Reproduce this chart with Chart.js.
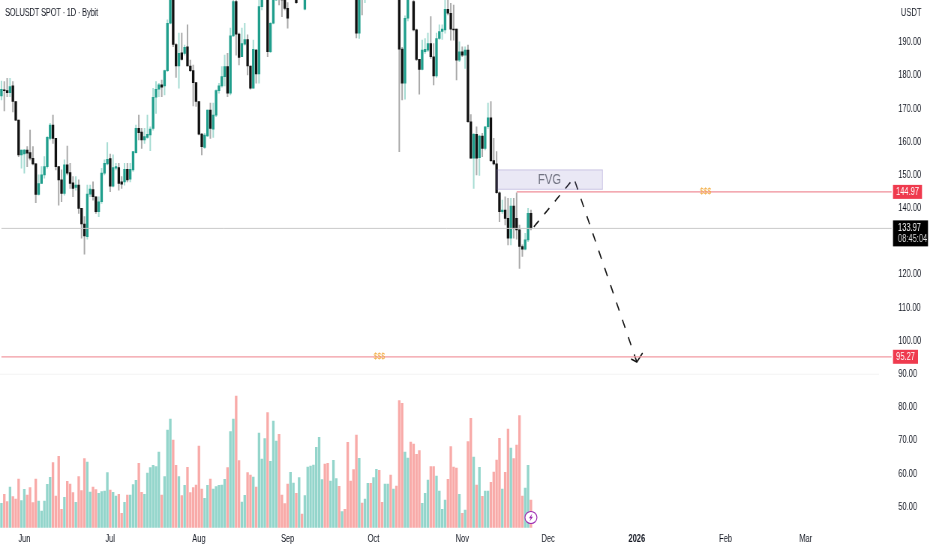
<!DOCTYPE html>
<html>
<head>
<meta charset="utf-8">
<title>SOLUSDT SPOT 1D</title>
<script src="https://cdn.jsdelivr.net/npm/chart.js@4"></script>
<style>
  html, body { margin: 0; padding: 0; background: #fff; overflow: hidden; }
  #wrap { width: 932px; height: 550px; overflow: hidden; }
  /* the original screenshot is squeezed sideways, so draw wide and scale it back */
  canvas { display: block; transform: scaleX(0.75); transform-origin: 0 0; }
</style>
</head>
<body>
<div id="wrap"><canvas id="myChart" width="1243" height="550"></canvas></div>
<script>
// candles, one per day from 2025-05-24 (values above about 203 are off the top of the picture)
var opens = [173.9,175.7,175.5,174.9,176.9,172.2,166.6,156.1,156.4,157.6,156.8,155.1,153.4,144.2,147.5,150.1,152.6,161.1,165.1,161.1,152.6,148.6,144.5,153.1,150.8,147.7,146.3,147.0,140.0,135.3,131.5,144.3,145.7,143.5,139.0,142.0,150.6,153.4,155.0,146.7,152.1,152.3,148.0,148.0,151.8,148.8,151.6,156.8,164.1,163.0,160.6,161.4,162.1,164.1,173.5,175.9,177.2,176.9,181.5,195.8,205.8,189.4,182.9,186.9,186.7,188.7,182.9,181.5,177.9,172.2,162.4,158.4,161.8,169.6,163.9,168.1,175.5,176.9,179.7,182.7,174.7,192.0,202.3,192.5,185.7,189.5,190.9,182.9,176.2,187.7,180.5,200.8,203.8,205.8,187.2,195.8,202.8,204.8,203.3,202.8,200.3,204.5,210,214,203.5,209,200,
  208,213,217,222,228,235,238,234,230,236,241,245,240,243,240,232,226,218,192.8,205,203.5,208,212,208,214,222,218,214,218,223,220,226,222,188,177.7,197.3,206,202.3,193.8,184.9,181.9,187.2,187.7,189.7,185.7,179.9,191.2,193.3,193.8,200.0,198.8,194.0,194.0,184.7,187.2,186.2,187.7,166.1,155.1,162.3,155.3,161.8,158.1,164.6,167.3,154.4,153.4,144.7,139.0,139.5,137.0,131.0,140.7,137.0,133.5,128.5,127.7,130.5,138.5];
var closes = [175.9,175.5,174.9,176.7,172.2,166.6,156.1,157.6,157.6,156.6,155.1,153.4,144.2,147.5,150.1,152.6,161.4,165.1,161.1,152.6,148.6,144.5,153.1,150.6,147.5,146.0,147.0,140.0,135.3,131.7,144.3,145.8,143.5,139.0,142.0,150.6,153.6,154.8,146.7,152.3,152.6,147.5,147.3,151.8,148.6,151.8,157.1,164.1,162.8,160.6,161.6,162.3,163.9,173.5,175.9,177.2,176.5,181.5,195.8,205.8,189.4,182.9,186.7,184.9,188.5,182.9,181.5,177.9,172.2,162.4,158.6,162.1,169.6,164.1,168.1,175.5,176.9,179.7,182.7,174.7,192.0,202.3,192.5,185.5,189.7,190.9,182.9,176.2,187.9,180.5,200.8,203.8,206.8,187.2,195.8,202.8,205.8,203.3,202.8,200.3,197.3,210,214,202,209,204,208,
  213,217,222,228,235,238,234,230,236,241,245,240,243,240,232,226,218,192.8,205,203.5,208,212,208,214,222,218,214,218,223,220,226,222,188,177.7,197.3,204,204,193.8,184.9,181.9,187.7,187.9,189.7,185.7,179.9,191.2,193.3,194.0,200.0,198.8,194.0,193.8,184.7,187.2,186.2,187.7,166.1,155.1,162.3,155.1,161.8,158.1,164.6,167.3,154.4,153.4,144.7,139.0,139.5,137.0,131.0,140.7,134.0,133.5,128.5,127.7,130.5,138.5,133.97];
var highs = [178.4,178.2,179.2,179.2,178.2,172.2,166.6,157.6,157.8,158.6,163.6,158.6,153.6,150.1,152.6,155.6,161.6,165.6,168.1,161.1,152.6,151.6,154.6,158.8,153.6,149.6,149.6,148.6,140.0,137.5,147.0,147.0,148.0,143.5,143.5,152.1,154.6,159.8,156.4,156.1,153.6,153.6,149.6,153.6,153.6,153.6,157.1,165.1,168.1,164.1,164.1,168.1,164.6,176.2,178.2,177.7,178.7,181.7,196.8,208,208,189.7,192.8,192.8,189.2,195.3,184.7,183.2,177.9,172.2,162.6,162.6,169.6,171.7,171.7,175.7,177.7,182.7,186.2,186.7,194.3,204,204,192.8,194.3,195.8,192.3,182.9,190.7,187.9,202.8,205,209,207,196,204,207,206,205,204,202,211,216,215,211,210,210,
  214,218,223,230,236,240,239,235,237,243,247,246,244,243,241,233,227,220,206,207,210,213,213,216,224,223,219,219,225,224,228,227,224,188.5,198,206,208,204,194,184.9,190.7,191.2,192.8,197.8,189.7,192.8,195.3,195.3,202.8,202.8,201.8,201.3,194,190.2,188.7,188.7,189.2,168.3,162.6,164.6,162.1,162.6,164.6,171.7,172.2,161.1,157.1,145.0,142.5,143.5,143.0,143.0,143.0,144.7,135.0,129.0,132.5,140.0,139.5];
var lows = [172.7,169.4,173.7,173.7,169.1,166.4,155.6,152.1,150.6,152.6,154.6,153.1,141.7,144.0,147.5,149.1,152.1,160.6,159.6,151.6,141.0,142.0,144.0,150.1,146.0,143.5,145.5,138.5,131.0,126.2,130.7,143.5,142.5,138.5,137.5,141.5,150.1,153.1,145.0,146.5,151.6,145.5,146.0,147.0,148.0,148.0,151.1,156.6,160.6,158.1,159.6,161.1,157.4,163.6,168.6,173.7,173.7,174.2,181.2,195.6,188.7,179.5,176.2,184.7,186.2,182.9,181.2,170.9,170.7,162.1,156.1,158.1,161.6,161.1,161.4,167.6,174.7,176.5,176.9,173.7,174.2,191.8,186.2,183.2,185.7,189.2,180.2,175.9,176.2,177.7,177.7,199.8,203.3,185.7,186.9,195.6,202.6,201.3,197.8,199.8,194.3,203,209,201.8,203,203.5,199.8,
  207,212,216,221,227,233,232,229,229,235,240,239,239,239,231,225,217,191.4,191.2,198.3,202,207,207,207,213,217,213,213,217,219,219,221,157.1,172.7,172.9,196.5,203,193.5,184.5,174.4,181.7,186.7,187.2,185.2,177.2,179.5,190.9,190.9,192.8,198.3,190.7,190.7,178.7,184.2,185.7,182.2,165.9,155.1,146.0,150.1,149.9,155.6,157.6,164.1,154.1,153.1,144.5,136.0,138.5,135.0,129.0,129.0,131.0,130.7,121.9,125.5,127.5,130.0,133.5];
// volume is only shown as bar heights, the original has no scale for it
var volumes = [73,100,78,122,93,86,146,81,115,98,120,75,146,80,50,80,130,151,195,95,214,55,91,139,131,105,76,153,111,207,197,107,122,114,103,108,110,165,113,106,95,100,43,76,98,98,129,142,193,106,100,164,180,187,183,227,98,153,293,326,263,187,153,96,127,181,105,120,128,245,116,88,127,146,116,123,127,128,145,180,288,326,395,201,77,97,165,158,152,122,284,206,267,345,199,320,260,280,
  98,72,131,166,134,103,150,41,96,182,185,188,241,271,144,191,193,140,202,147,124,48,55,256,140,174,278,208,74,86,133,133,150,175,172,76,131,131,158,116,125,381,373,227,209,257,251,220,231,73,103,143,183,183,155,110,55,83,145,243,182,179,100,43,53,258,328,212,128,181,94,110,110,136,167,203,268,116,166,296,239,207,248,336,95,119,187,83];

var priceTicks = [50,60,70,80,90,100,110,120,140,150,160,170,180,190];
var monthDates = ['2025-06-01','2025-07-01','2025-08-01','2025-09-01','2025-10-01','2025-11-01','2025-12-01','2026-01-01','2026-02-01','2026-03-01'];
var monthLabels = ['Jun','Jul','Aug','Sep','Oct','Nov','Dec','2026','Feb','Mar'];

var lastPrice = 133.97;
var levelHigh = 144.97;
var levelLow = 95.27;
var fvgFrom = '2025-11-13', fvgTo = '2025-12-20', fvgTop = 151.6, fvgBottom = 145.75;
var pathDates = ['2025-11-26','2025-12-10','2026-01-01'];
var pathPrices = [134.4,149.1,93.7];
var wingDates = ['2025-12-30','2026-01-01','2026-01-03'];
var wingPrices = [94.6,93.7,96.4];

var days = [];
for (var d = 0; d < 312; d++) {
  days.push(new Date(Date.UTC(2025, 4, 24 + d)).toISOString().slice(0, 10));
}
var firstDay = days[0], lastDay = days[days.length - 1];

var SX = 4 / 3; // canvas px per screen px sideways
var fontName = '"Liberation Sans", Arial, sans-serif';
var UP = '#1f9e8c', DOWN = '#101010';

function isUp(i) { return closes[i] >= opens[i]; }
function pts(xs, ys) { return xs.map(function(x, i) { return {x: x, y: ys[i]}; }); }

var overlays = {
  id: 'overlays',
  afterDatasetsDraw: function(chart) {
    var c = chart.ctx, xs = chart.scales.x, ys = chart.scales.y, right = chart.chartArea.right;

    // faint separator above the volume pane
    c.save();
    c.strokeStyle = '#f3f3f3';
    c.beginPath(); c.moveTo(0, ys.getPixelForValue(90)); c.lineTo(right - 14 * SX, ys.getPixelForValue(90)); c.stroke();

    // FVG box
    var x0 = xs.getPixelForValue(days.indexOf(fvgFrom)), x1 = xs.getPixelForValue(days.indexOf(fvgTo));
    var y0 = ys.getPixelForValue(fvgTop), y1 = ys.getPixelForValue(fvgBottom);
    c.fillStyle = 'rgba(126,112,190,0.16)';
    c.strokeStyle = 'rgba(126,112,190,0.35)';
    c.fillRect(x0, y0, x1 - x0, y1 - y0);
    c.strokeRect(x0, y0, x1 - x0, y1 - y0);
    c.fillStyle = '#6f7180';
    c.font = '15px ' + fontName;
    c.textAlign = 'center'; c.textBaseline = 'middle';
    c.fillText('FVG', (x0 + x1) / 2, (y0 + y1) / 2);

    // $$$ labels on the two levels
    c.fillStyle = '#f2a93b';
    c.font = '9px ' + fontName;
    c.fillText('$$$', xs.getPixelForValue(days.indexOf('2026-01-25')), ys.getPixelForValue(levelHigh));
    c.fillText('$$$', xs.getPixelForValue(days.indexOf('2025-10-03')), ys.getPixelForValue(levelLow));

    // price tags
    c.font = '10px ' + fontName;
    tag(c, String(levelHigh), right, ys.getPixelForValue(levelHigh), 29 * SX, 14, '#ef3a4e');
    tag(c, String(levelLow), right, ys.getPixelForValue(levelLow), 25 * SX, 14, '#ef3a4e');
    var py = ys.getPixelForValue(lastPrice);
    c.fillStyle = '#000';
    c.fillRect(right, py - 8, 35 * SX, 26);
    c.fillStyle = '#fff';
    c.textAlign = 'left';
    c.fillText(String(lastPrice), right + 5 * SX, py - 0.5);
    c.fillStyle = '#d8d8d8';
    c.fillText('08:45:04', right + 5 * SX, py + 11);

    // header texts
    c.fillStyle = '#131722';
    c.font = '10px ' + fontName;
    c.letterSpacing = '-0.25px';
    c.fillText('SOLUSDT SPOT · 1D · Bybit', 5 * SX, 13);
    c.letterSpacing = '0px';
    c.fillText('USDT', 901 * SX, 13);

    // lightning badge at the last bar
    var bx = xs.getPixelForValue(days.indexOf('2025-11-25')), by = 517.5;
    c.beginPath(); c.ellipse(bx, by, 6 * SX, 6, 0, 0, Math.PI * 2);
    c.fillStyle = '#fff'; c.fill();
    c.lineWidth = 1.2; c.strokeStyle = '#9c27b0'; c.stroke();
    c.fillStyle = '#9c27b0';
    c.beginPath();
    c.moveTo(bx + 1.3 * SX, by - 4); c.lineTo(bx - 2 * SX, by + 0.8); c.lineTo(bx - 0.2 * SX, by + 0.8);
    c.lineTo(bx - 1.3 * SX, by + 4); c.lineTo(bx + 2 * SX, by - 0.8); c.lineTo(bx + 0.2 * SX, by - 0.8);
    c.closePath(); c.fill();
    c.restore();
  }
};

function tag(c, text, x, y, w, h, color) {
  c.fillStyle = color;
  c.fillRect(x, y - h / 2, w, h);
  c.fillStyle = '#fff';
  c.textAlign = 'center';
  c.fillText(text, x + w / 2, y + 0.5);
}

function lineSet(data, color, width, dash) {
  return {
    type: 'line', data: data, order: 1,
    borderColor: color, borderWidth: width, borderDash: dash || [],
    pointRadius: 0, tension: 0, fill: false
  };
}

function noPadding(s) {
  s.paddingTop = s.paddingBottom = s.paddingLeft = s.paddingRight = 0;
}

var chart = new Chart(document.getElementById('myChart'), {
  type: 'bar',
  data: {
    labels: days,
    datasets: [
      {
        label: 'volume', yAxisID: 'vol', order: 6, grouped: false, barThickness: 2 * SX,
        data: volumes,
        backgroundColor: volumes.map(function(v, i) { return isUp(i) ? '#93d5cb' : '#f8aaa8'; })
      },
      {
        label: 'wicks', order: 5, grouped: false, barThickness: 1 * SX,
        data: lows.map(function(l, i) { return [l, highs[i]]; }),
        backgroundColor: lows.map(function(l, i) { return isUp(i) ? '#a6dcd3' : '#a9a9a9'; })
      },
      {
        label: 'bodies', order: 4, grouped: false, barThickness: 2 * SX,
        data: opens.map(function(o, i) { return [o, closes[i]]; }),
        backgroundColor: opens.map(function(o, i) { return isUp(i) ? UP : DOWN; })
      },
      lineSet(pts([firstDay, lastDay], [lastPrice, lastPrice]), '#c9c9c9', 1),
      lineSet(pts(['2025-11-20', lastDay], [levelHigh, levelHigh]), '#ef8e98', 1.2),
      lineSet(pts([firstDay, lastDay], [levelLow, levelLow]), '#f29aa2', 1.2),
      lineSet(pts(pathDates, pathPrices), '#111', 1.6, [9, 10]),
      lineSet(pts(wingDates, wingPrices), '#111', 1.6)
    ]
  },
  options: {
    responsive: false,
    animation: false,
    layout: { padding: 0 },
    plugins: { legend: { display: false }, tooltip: { enabled: false } },
    scales: {
      x: {
        offset: true,
        grid: { display: false, drawTicks: false },
        border: { display: false },
        afterFit: function(s) { s.height = 22.3; noPadding(s); },
        ticks: {
          autoSkip: false, maxRotation: 0, padding: 6, color: '#131722',
          font: function(c) {
            var bold = c.tick && c.tick.label === '2026';
            return { family: fontName, size: 10, weight: bold ? 'bold' : 'normal' };
          },
          callback: function(v) {
            var i = monthDates.indexOf(this.getLabelForValue(v));
            return i < 0 ? '' : monthLabels[i];
          }
        }
      },
      y: {
        position: 'right', min: 43.76, max: 202.8,
        grid: { display: false, drawTicks: false },
        border: { display: false },
        afterFit: function(s) { s.width = 52.33; noPadding(s); },
        afterBuildTicks: function(s) {
          s.ticks = priceTicks.map(function(p) { return {value: p}; });
        },
        ticks: {
          padding: 7, color: '#131722',
          font: { family: fontName, size: 10 },
          callback: function(v) { return v.toFixed(2); }
        }
      },
      vol: { display: false, min: 0, max: 1583 }
    }
  },
  plugins: [overlays]
});
</script>
</body>
</html>
